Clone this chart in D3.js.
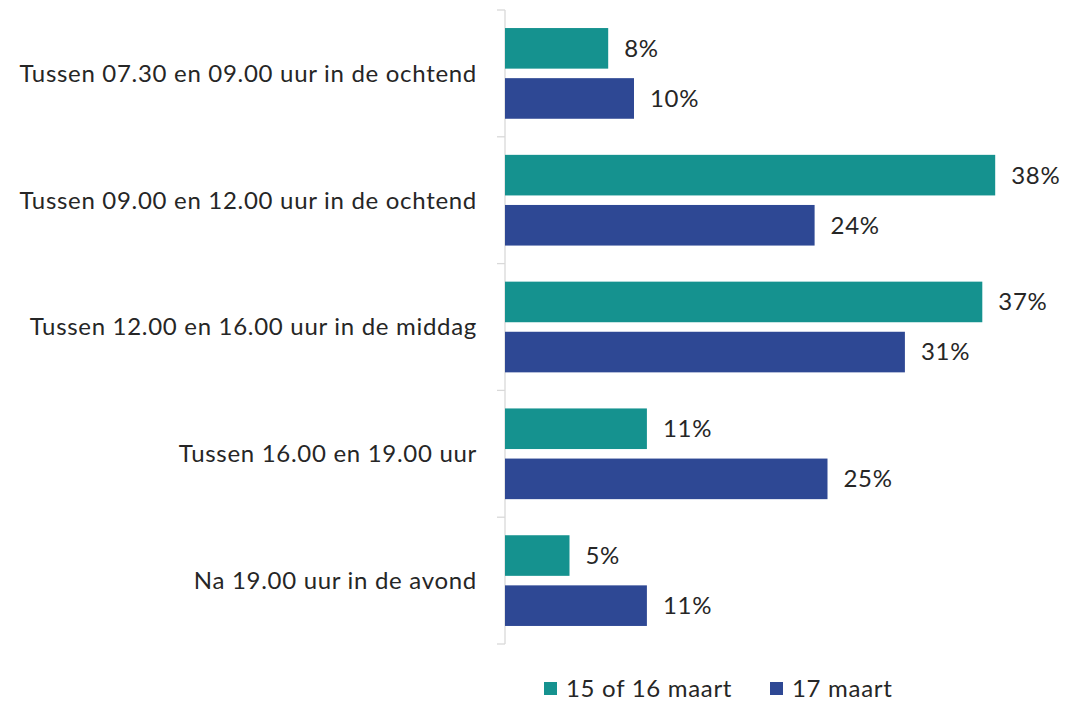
<!DOCTYPE html>
<html lang="nl">
<head>
    <meta charset="UTF-8">
    <title>Tijdstip</title>
    <script src="https://d3js.org/d3.v7.min.js"></script>
    <style>
        body { margin: 0; background: #fff; }
        text { fill: #262626; font-family: Lato, "Open Sans", sans-serif; font-size: 24px; letter-spacing: 0.7px; }
    </style>
</head>
<body>
    <div id="chart"></div>
    <script>
        // Data
        const categories = [
            "Tussen 07.30 en 09.00 uur in de ochtend",
            "Tussen 09.00 en 12.00 uur in de ochtend",
            "Tussen 12.00 en 16.00 uur in de middag",
            "Tussen 16.00 en 19.00 uur",
            "Na 19.00 uur in de avond"
        ];
        const seriesNames = ["15 of 16 maart", "17 maart"];
        const values1516 = [8, 38, 37, 11, 5];
        const values17 = [10, 24, 31, 25, 11];
        const colors = ["#15928F", "#2E4894"];

        const W = 1066, H = 702;
        const margin = { top: 10, left: 505, bottom: 58 };

        const svg = d3.select("#chart").append("svg")
            .attr("width", W).attr("height", H);

        const rows = categories.map((c, i) => ({ cat: c, vals: [values1516[i], values17[i]] }));

        const y = d3.scaleBand()
            .domain(categories)
            .range([margin.top, H - margin.bottom]);

        const yInner = d3.scaleBand()
            .domain(seriesNames)
            .range([0, y.bandwidth()])
            .paddingInner(0.19)
            .paddingOuter(0.36);

        const x = d3.scaleLinear()
            .domain([0, 40])
            .range([margin.left, margin.left + 40 * 12.9]);

        // y-as: lijn + ticks op de bandgrenzen
        const axisG = svg.append("g");
        axisG.append("line")
            .attr("x1", margin.left).attr("x2", margin.left)
            .attr("y1", margin.top).attr("y2", H - margin.bottom)
            .attr("stroke", "#d9d9d9").attr("stroke-width", 1.3);
        const bounds = categories.map(c => y(c)).concat([y.range()[1]]);
        axisG.selectAll("line.tick")
            .data(bounds)
            .enter().append("line")
            .attr("class", "tick")
            .attr("x1", margin.left - 8).attr("x2", margin.left)
            .attr("y1", d => d).attr("y2", d => d)
            .attr("stroke", "#d9d9d9").attr("stroke-width", 1.3);

        // categorie labels
        svg.selectAll("text.cat")
            .data(categories)
            .enter().append("text")
            .attr("class", "cat")
            .attr("x", 477)
            .attr("y", d => y(d) + y.bandwidth() / 2)
            .attr("dy", "0.35em")
            .attr("text-anchor", "end")
            .text(d => d);

        // staven
        const groups = svg.selectAll("g.grp")
            .data(rows)
            .enter().append("g")
            .attr("class", "grp")
            .attr("transform", d => `translate(0,${y(d.cat)})`);

        groups.selectAll("rect")
            .data(d => d.vals.map((v, j) => ({ v, s: seriesNames[j], j })))
            .enter().append("rect")
            .attr("x", x(0))
            .attr("y", d => yInner(d.s))
            .attr("width", d => x(d.v) - x(0))
            .attr("height", yInner.bandwidth())
            .attr("fill", d => colors[d.j]);

        groups.selectAll("text.val")
            .data(d => d.vals.map((v, j) => ({ v, s: seriesNames[j], j })))
            .enter().append("text")
            .attr("class", "val")
            .attr("x", d => x(d.v) + 16)
            .attr("y", d => yInner(d.s) + yInner.bandwidth() / 2)
            .attr("dy", "0.35em")
            .text(d => d.v + "%");

        // legenda
        const legendX = [544, 770];
        const legend = svg.selectAll("g.leg")
            .data(seriesNames)
            .enter().append("g")
            .attr("class", "leg")
            .attr("transform", (d, i) => `translate(${legendX[i]},682)`);
        legend.append("rect")
            .attr("width", 13).attr("height", 13)
            .attr("fill", (d, i) => colors[i]);
        legend.append("text")
            .attr("x", 22).attr("y", 6.5)
            .attr("dy", "0.35em")
            .text(d => d);
    </script>
</body>
</html>
